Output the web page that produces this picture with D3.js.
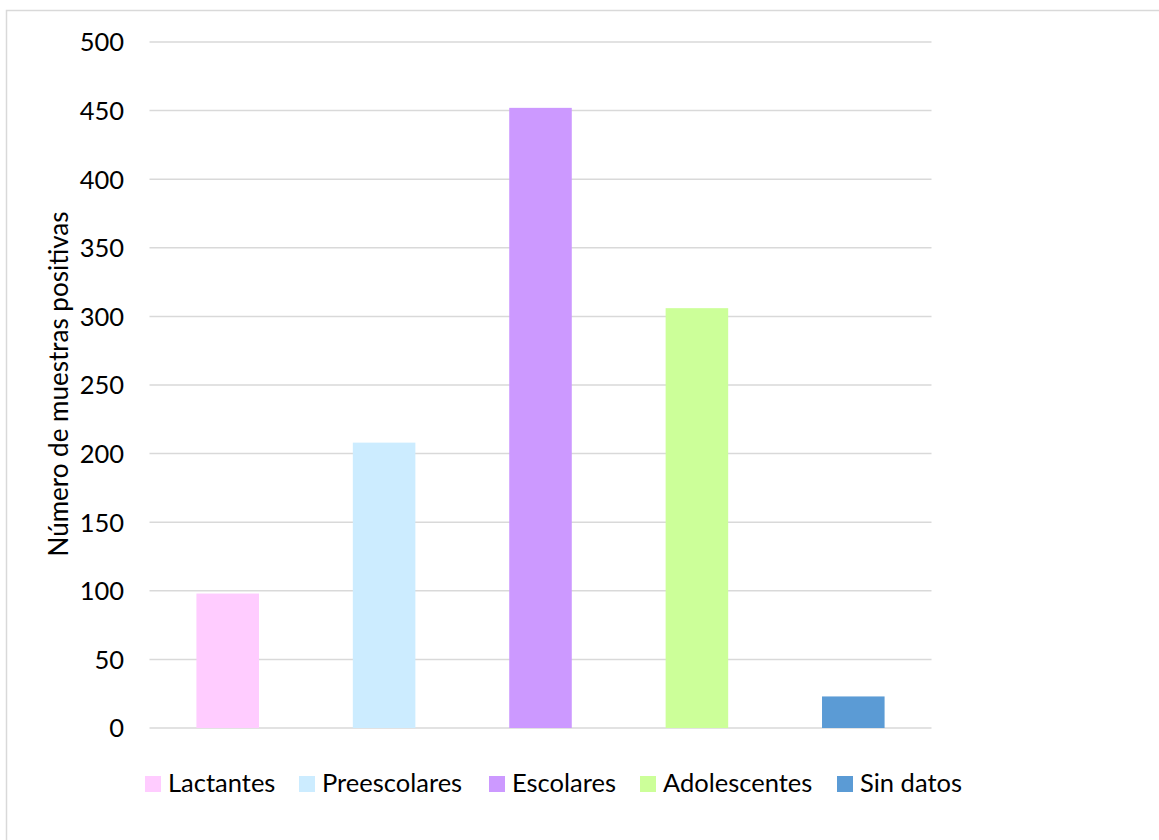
<!DOCTYPE html>
<html>
<head>
<meta charset="utf-8">
<script src="https://cdn.jsdelivr.net/npm/d3@7"></script>
<style>
  html, body { margin: 0; padding: 0; background: #fff; }
  svg text { font-family: Lato, "Open Sans", sans-serif; fill: #000; }
</style>
</head>
<body>
<svg id="chart" width="1159" height="840"></svg>
<script>
// Positive samples by age group
const categories = ["Lactantes", "Preescolares", "Escolares", "Adolescentes", "Sin datos"];
const values = [98, 208, 452, 306, 23];
const colors = ["#FFCCFF", "#CCECFF", "#CC99FF", "#CCFF99", "#5B9BD5"];
const yTicks = [0, 50, 100, 150, 200, 250, 300, 350, 400, 450, 500];
const yTitle = "Número de muestras positivas";

const svg = d3.select("#chart");
const W = 1159, H = 840;

// outer chart frame
svg.append("rect")
  .attr("x", 6.5).attr("y", 10.5)
  .attr("width", W + 20).attr("height", H + 20)
  .attr("fill", "none").attr("stroke", "#d9d9d9").attr("stroke-width", 1.5);

const plot = { left: 149.5, right: 931.5, top: 42, bottom: 728 };

const x = d3.scaleBand()
  .domain(categories)
  .range([plot.left, plot.right])
  .paddingInner(0.6)
  .paddingOuter(0.3);

const y = d3.scaleLinear().domain([0, 500]).range([plot.bottom, plot.top]);

// gridlines
svg.append("g")
  .selectAll("line")
  .data(yTicks)
  .join("line")
  .attr("x1", plot.left).attr("x2", plot.right)
  .attr("y1", d => y(d)).attr("y2", d => y(d))
  .attr("stroke", "#d9d9d9").attr("stroke-width", 1.5);

// y axis labels
const yAxis = d3.axisLeft(y).tickValues(yTicks).tickSize(0).tickPadding(0);
const gy = svg.append("g")
  .attr("transform", `translate(124,0)`)
  .call(yAxis);
gy.select(".domain").remove();
gy.selectAll("text")
  .style("font-family", "Lato, sans-serif")
  .attr("font-size", 25.5)
  .attr("fill", "#000")
  .attr("dy", "0.35em");

// bars
svg.append("g")
  .selectAll("rect")
  .data(categories)
  .join("rect")
  .attr("x", d => x(d))
  .attr("width", x.bandwidth())
  .attr("y", (d, i) => y(values[i]))
  .attr("height", (d, i) => y(0) - y(values[i]))
  .attr("fill", (d, i) => colors[i]);

// y axis title
svg.append("text")
  .attr("transform", `translate(68,${(plot.top + plot.bottom) / 2 - 1}) rotate(-90)`)
  .attr("text-anchor", "middle")
  .attr("font-size", 26)
  .text(yTitle);

// legend
const legendX = [145, 299, 489, 640, 837];
const legend = svg.append("g");
categories.forEach((c, i) => {
  const g = legend.append("g").attr("transform", `translate(${legendX[i]},776)`);
  g.append("rect").attr("width", 16).attr("height", 16).attr("fill", colors[i]);
  g.append("text").attr("x", 23).attr("y", 16).attr("font-size", 25.5).text(c);
});
</script>
</body>
</html>
